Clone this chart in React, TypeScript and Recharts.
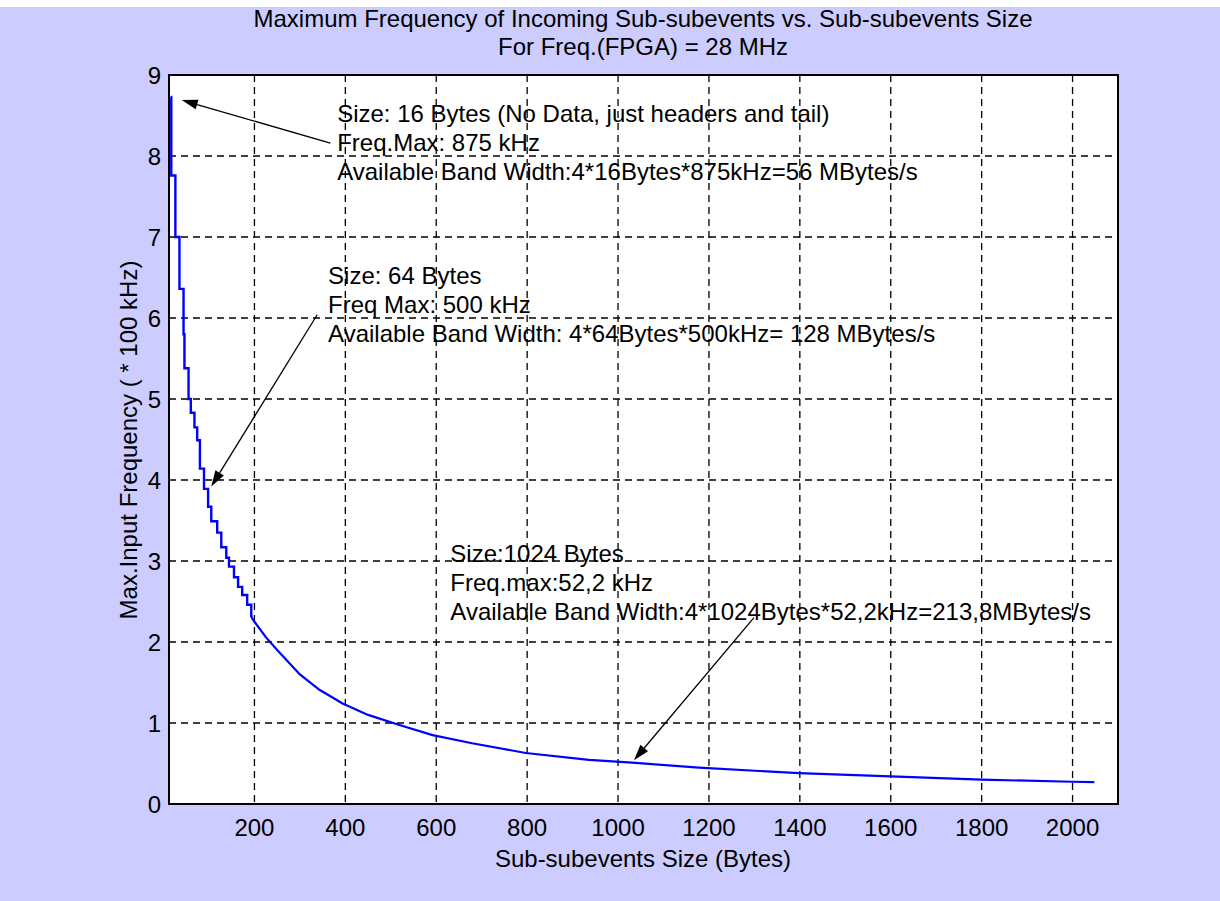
import React from 'react';
import {
  LineChart,
  Line,
  XAxis,
  YAxis,
  CartesianGrid,
  ReferenceArea,
  ReferenceLine,
  ReferenceDot,
} from 'recharts';

// staircase part of the curve (bytes -> max freq in 100 kHz)
const stairSizes = [16, 17, 26, 35, 44, 46, 55, 60, 68, 74, 80, 89, 98, 105, 118, 127, 138, 144, 155, 164, 173, 184, 193];
const stairFreqs = [8.73, 7.76, 7.0, 6.36, 5.8, 5.38, 5.0, 4.83, 4.65, 4.49, 4.14, 3.89, 3.67, 3.49, 3.35, 3.17, 3.04, 2.93, 2.8, 2.68, 2.58, 2.46, 2.31];

// smoother tail
const tailSizes = [193, 200, 225, 250, 275, 300, 343, 394, 450, 519, 592, 679, 797, 936, 1031, 1178, 1398, 1600, 1800, 2000, 2048];
const tailFreqs = [2.31, 2.25, 2.06, 1.9, 1.75, 1.6, 1.41, 1.24, 1.1, 0.975, 0.85, 0.75, 0.63, 0.545, 0.51, 0.45, 0.38, 0.34, 0.3, 0.275, 0.27];

const xTicks = [200, 400, 600, 800, 1000, 1200, 1400, 1600, 1800, 2000];
const yTicks = [0, 1, 2, 3, 4, 5, 6, 7, 8, 9];

const titleLines = [
  'Maximum Frequency of Incoming Sub-subevents vs. Sub-subevents Size',
  'For Freq.(FPGA) = 28 MHz',
];
const xLabel = 'Sub-subevents Size (Bytes)';
const yLabel = 'Max.Input Frequency ( * 100 kHz)';

const note16 = [
  'Size: 16 Bytes (No Data, just headers and tail)',
  'Freq.Max: 875 kHz',
  'Available Band Width:4*16Bytes*875kHz=56 MBytes/s',
];
const note64 = [
  'Size: 64 Bytes',
  'Freq Max: 500 kHz',
  'Available Band Width: 4*64Bytes*500kHz= 128 MBytes/s',
];
const note1024 = [
  'Size:1024 Bytes',
  'Freq.max:52,2 kHz',
  'Available Band Width:4*1024Bytes*52,2kHz=213,8MBytes/s',
];

// where each note sits and where its arrow goes (data coords)
const noteAnchors = [
  { lines: note16, at: { x: 382, y: 8.42 }, from: { x: 367, y: 8.16 }, to: { x: 40, y: 8.69 } },
  { lines: note64, at: { x: 362, y: 6.42 }, from: { x: 338, y: 6.04 }, to: { x: 105, y: 3.92 } },
  { lines: note1024, at: { x: 631, y: 2.99 }, from: { x: 1299, y: 2.3 }, to: { x: 1035, y: 0.54 } },
];

const stairData = stairSizes.map((size, i) => ({ size, freq: stairFreqs[i] }));
const tailData = tailSizes.map((size, i) => ({ size, freq: tailFreqs[i] }));

const FONT = '"Liberation Sans", Arial, sans-serif';
const X_MIN = 12;
const X_MAX = 2100;

function Arrow(props: any) {
  const { x1, y1, x2, y2 } = props;
  const ang = Math.atan2(y2 - y1, x2 - x1);
  const len = 16;
  const half = 5;
  const bx = x2 - len * Math.cos(ang);
  const by = y2 - len * Math.sin(ang);
  const px = -Math.sin(ang) * half;
  const py = Math.cos(ang) * half;
  return (
    <g>
      <line x1={x1} y1={y1} x2={bx} y2={by} stroke="#000" strokeWidth={1.3} />
      <polygon points={`${x2},${y2} ${bx + px},${by + py} ${bx - px},${by - py}`} fill="#000" />
    </g>
  );
}

function noteShape(lines: string[]) {
  return (props: any) => (
    <text x={props.cx} y={props.cy} fontFamily={FONT} fontSize={24} fill="#000">
      {lines.map((l, i) => (
        <tspan key={i} x={props.cx} y={props.cy + i * 29}>
          {l}
        </tspan>
      ))}
    </text>
  );
}

export default function App() {
  return (
    <div
      style={{
        position: 'absolute',
        left: 0,
        top: 0,
        width: 1220,
        height: 901,
        background: '#ccccff',
        borderTop: '7px solid #fff',
        boxSizing: 'border-box',
      }}
    >
      <div style={{ position: 'absolute', left: 0, top: -7 }}>
        <LineChart width={1220} height={901} margin={{ top: 75, right: 102, bottom: 67, left: 109 }}>
          <CartesianGrid
            fill="#fff"
            fillOpacity={1}
            stroke="#000"
            strokeWidth={1.3}
            strokeDasharray="7 5"
          />
          <XAxis
            type="number"
            dataKey="size"
            domain={[X_MIN, X_MAX]}
            ticks={xTicks}
            allowDataOverflow
            axisLine={false}
            tickLine={false}
            tickSize={6}
            tickMargin={9}
            tick={{ fontFamily: FONT, fontSize: 24, fill: '#000' }}
          />
          <YAxis
            type="number"
            domain={[0, 9]}
            ticks={yTicks}
            allowDataOverflow
            axisLine={false}
            tickLine={false}
            width={60}
            tick={{ fontFamily: FONT, fontSize: 24, fill: '#000' }}
          />
          <Line
            data={stairData}
            dataKey="freq"
            type="stepAfter"
            stroke="#0000ff"
            strokeWidth={2.4}
            dot={false}
            isAnimationActive={false}
          />
          <Line
            data={tailData}
            dataKey="freq"
            type="linear"
            stroke="#0000ff"
            strokeWidth={2.2}
            dot={false}
            isAnimationActive={false}
          />
          <ReferenceArea x1={X_MIN} x2={X_MAX} y1={0} y2={9} fill="none" stroke="#000" strokeWidth={2} />
          {noteAnchors.map((n, i) => (
            <ReferenceLine key={'a' + i} segment={[n.from, n.to]} shape={Arrow} />
          ))}
          {noteAnchors.map((n, i) => (
            <ReferenceDot key={'t' + i} x={n.at.x} y={n.at.y} r={0} shape={noteShape(n.lines)} />
          ))}
        </LineChart>
      </div>
      <svg
        width={1220}
        height={901}
        style={{ position: 'absolute', left: 0, top: -7, pointerEvents: 'none' }}
      >
        <text x={643} y={27} textAnchor="middle" fontFamily={FONT} fontSize={24} fill="#000">
          {titleLines[0]}
        </text>
        <text x={643} y={55} textAnchor="middle" fontFamily={FONT} fontSize={24} fill="#000">
          {titleLines[1]}
        </text>
        <text x={643} y={867} textAnchor="middle" fontFamily={FONT} fontSize={24} fill="#000">
          {xLabel}
        </text>
        <text
          x={0}
          y={0}
          transform="translate(137,440) rotate(-90)"
          textAnchor="middle"
          fontFamily={FONT}
          fontSize={24}
          fill="#000"
        >
          {yLabel}
        </text>
      </svg>
    </div>
  );
}
